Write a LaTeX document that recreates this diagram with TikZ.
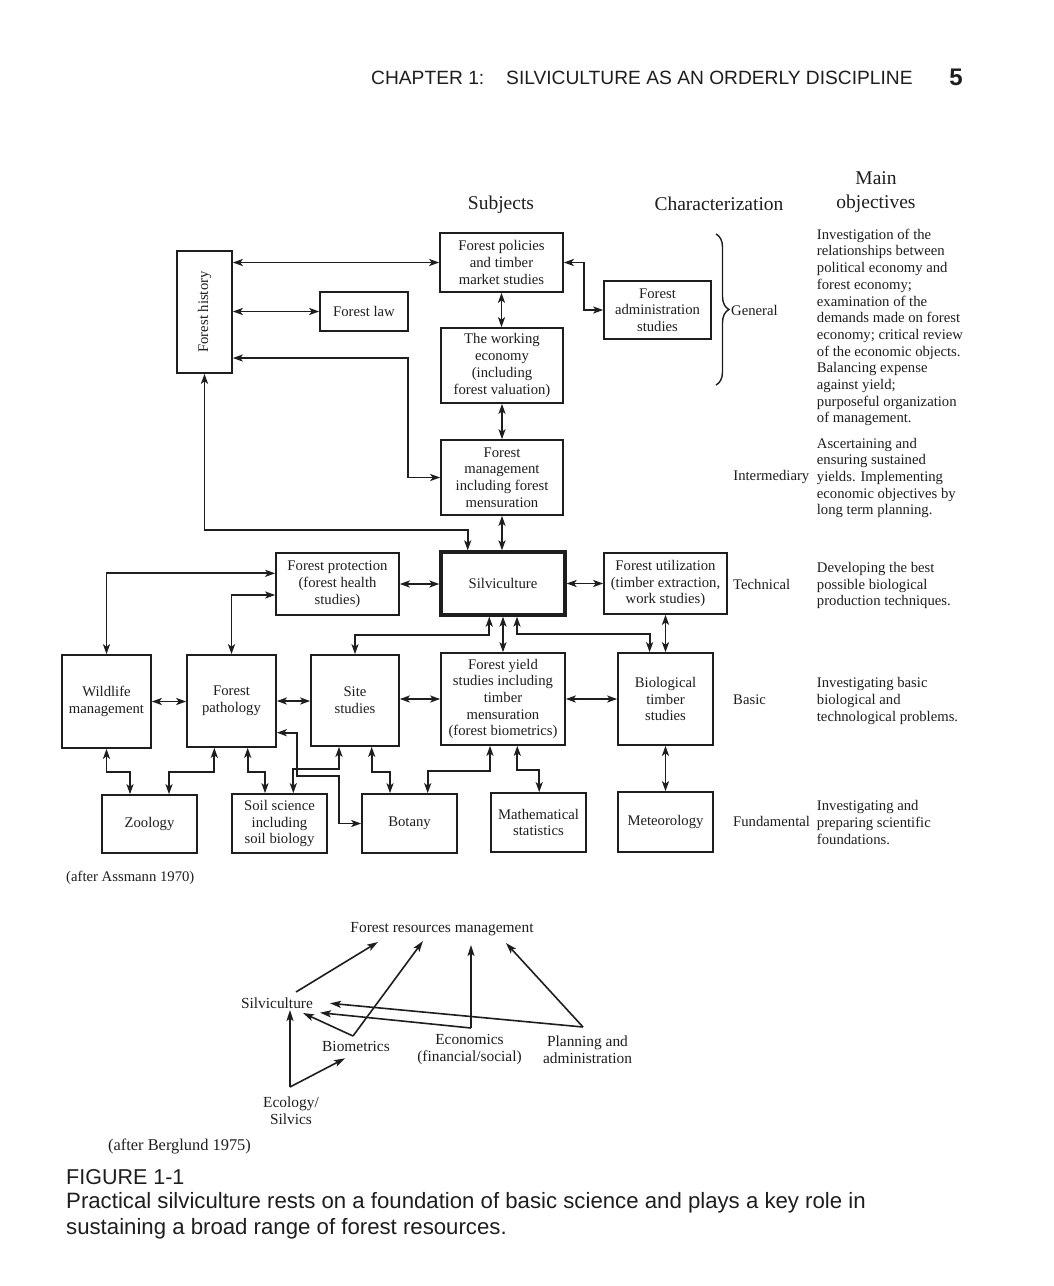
\documentclass[tikz,border=0pt]{standalone}
\usepackage{fontspec}
\setmainfont{Liberation Serif}
\setsansfont{Liberation Sans}
\usetikzlibrary{arrows.meta,decorations.pathreplacing,calc}
\definecolor{ink}{RGB}{30,30,30}
\begin{document}
\begin{tikzpicture}[x=1pt,y=-1pt,
  every node/.style={text=ink, inner sep=0pt, font=\fontsize{14.7}{16.7}\selectfont},
  box/.style={draw=ink, line width=1.6pt, align=center},
  conn/.style={draw=ink, line width=1.9pt, {Stealth[length=10pt,width=7pt,inset=2.5pt]}-{Stealth[length=10pt,width=7pt,inset=2.5pt]}},
  one/.style={draw=ink, line width=1.6pt, -{Stealth[length=11pt,width=7pt,inset=2.5pt]}},
  low/.style={font=\fontsize{15.4}{16.7}\selectfont},
  para/.style={align=left, anchor=west},
  head/.style={font=\fontsize{19.5}{24}\selectfont, align=center}]
\useasboundingbox (0,0) rectangle (1054,1286);
\fill[white] (0,0) rectangle (1054,1286);

% page header
\node[anchor=west, font=\sffamily\fontsize{19.2}{22}\selectfont] (chap) at (371,78) {CHAPTER 1:};
\node[anchor=west, font=\sffamily\fontsize{19.2}{22}\selectfont] (ttl) at (506,78) {SILVICULTURE AS AN ORDERLY DISCIPLINE};
\node[font=\sffamily\bfseries\fontsize{24}{24}\selectfont] (pg) at (956,77) {5};

% column headings
\node[head] (hsub) at (501,205) {Subjects};
\node[head] (hchar) at (719,204) {Characterization};
\node[head] (hobj) at (876,192) {Main\\objectives};

% boxes
\node[box, minimum width=55, minimum height=122] (hist) at (204.5,312) {\rotatebox{90}{Forest history}};
\node[box, minimum width=123, minimum height=59] (pol) at (501.5,262.5) {Forest policies\\and timber\\market studies};
\node[box, minimum width=88, minimum height=39] (law) at (364,311.5) {Forest law};
\node[box, minimum width=122, minimum height=75] (work) at (502,365.5) {The working\\economy\\(including\\forest valuation)};
\node[box, minimum width=107, minimum height=58] (admin) at (657.5,310) {Forest\\administration\\studies};
\node[box, minimum width=122, minimum height=75] (mgmt) at (502,477.5) {Forest\\management\\including forest\\mensuration};
\node[box, minimum width=123, minimum height=62] (prot) at (337.5,584) {Forest protection\\(forest health\\studies)};
\node[box, line width=3.2pt, minimum width=124, minimum height=63] (silv) at (503,583.5) {Silviculture};
\node[box, minimum width=123, minimum height=61] (util) at (665.5,583.5) {Forest utilization\\(timber extraction,\\work studies)};
\node[box, minimum width=89, minimum height=93] (wild) at (106.5,701.5) {Wildlife\\management};
\node[box, minimum width=89, minimum height=92] (path) at (231.5,701) {Forest\\pathology};
\node[box, minimum width=88, minimum height=91] (site) at (355,700.5) {Site\\studies};
\node[box, minimum width=124, minimum height=92] (yield) at (503,699) {Forest yield\\studies including\\timber\\mensuration\\(forest biometrics)};
\node[box, minimum width=95, minimum height=92] (bio) at (665.5,699) {Biological\\timber\\studies};
\node[box, minimum width=95, minimum height=58] (zoo) at (149.5,824) {Zoology};
\node[box, minimum width=95, minimum height=59] (soil) at (279.5,823.5) {Soil science\\including\\soil biology};
\node[box, minimum width=95, minimum height=59] (bot) at (409.5,823.5) {Botany};
\node[box, minimum width=95, minimum height=59] (math) at (538.5,822.5) {Mathematical\\statistics};
\node[box, minimum width=95, minimum height=60] (met) at (665.5,822) {Meteorology};

% bend points
\coordinate (b1) at (408,358);
\coordinate (b2) at (467.7,530);
\coordinate (b3) at (584,310);
\coordinate (b4) at (106,573.3);
\coordinate (b5) at (231,595);
\coordinate (b6) at (489.3,635);
\coordinate (b7) at (517,634);
\coordinate (b8) at (649.6,634);
\coordinate (z1) at (130,772);
\coordinate (z2) at (214.3,772);
\coordinate (z3) at (169,772);
\coordinate (s1) at (247.7,771.7);
\coordinate (s2) at (265,771.7);
\coordinate (s3) at (339,769.3);
\coordinate (s4) at (293.3,769.3);
\coordinate (p1) at (296.7,732.7);
\coordinate (p2) at (296.7,775.7);
\coordinate (p3) at (339.3,775.7);
\coordinate (t1) at (371.7,771.7);
\coordinate (t2) at (390,771.7);
\coordinate (y1) at (490,770.7);
\coordinate (y2) at (427.7,770.7);
\coordinate (y3) at (517.3,770);
\coordinate (y4) at (539.2,770);

% connectors, upper part
\draw[conn] (hist.east |- pol.west) -- (pol.west);
\draw[conn] (hist.east |- law.west) -- (law.west);
\draw[conn] (hist.east |- b1) -- (b1) |- (mgmt.west);
\draw[conn] (pol.south) -- (pol.south |- work.north);
\draw[conn] (work.south) -- (work.south |- mgmt.north);
\draw[conn] (mgmt.south) -- (mgmt.south |- silv.north);
\draw[conn] (hist.south) |- (b2) -- (b2 |- silv.north);
\draw[conn] (pol.east) -| (b3) -- (admin.west);

% brace
\draw[ink, line width=1.4pt, decorate, decoration={brace, amplitude=13pt}] (716,234) -- (716,385);
\node[anchor=west] (gen) at (731,310) {General};

% connectors, silviculture row
\draw[conn] (prot.east) -- (prot.east -| silv.west);
\draw[conn] (silv.east) -- (silv.east -| util.west);
\draw[conn] (prot.west |- b4) -| (wild.north);
\draw[conn] (prot.west |- b5) -| (path.north);
\draw[conn] (silv.south -| b6) -- (b6) -| (site.north);
\draw[conn] (silv.south) -- (silv.south |- yield.north);
\draw[conn] (silv.south -| b7) -- (b7) -- (b8) -- (b8 |- bio.north);
\draw[conn] (util.south) -- (util.south |- bio.north);

% basic row
\draw[conn] (wild.east) -- (wild.east -| path.west);
\draw[conn] (path.east) -- (path.east -| site.west);
\draw[conn] (site.east |- yield.west) -- (yield.west);
\draw[conn] (yield.east) -- (yield.east -| bio.west);
\draw[conn] (bio.south) -- (bio.south |- met.north);

% to fundamental row
\draw[conn] (wild.south) |- (z1) -- (z1 |- zoo.north);
\draw[conn] (path.south -| z2) -- (z2) -- (z3) -- (z3 |- zoo.north);
\draw[conn] (path.south -| s1) -- (s1) -- (s2) -- (s2 |- soil.north);
\draw[conn] (site.south -| s3) -- (s3) -- (s4) -- (s4 |- soil.north);
\draw[conn] (path.east |- p1) -- (p1) -- (p2) -- (p3) |- (bot.west);
\draw[conn] (site.south -| t1) -- (t1) -- (t2) -- (t2 |- bot.north);
\draw[conn] (yield.south -| y1) -- (y1) -- (y2) -- (y2 |- bot.north);
\draw[conn] (yield.south -| y3) -- (y3) -- (y4) -- (y4 |- math.north);

% characterization labels
\node[anchor=east] (inter) at (809.5,476.5) {Intermediary};
\node[anchor=west] (tech) at (733,584.5) {Technical};
\node[anchor=west] (basic) at (733,699.5) {Basic};
\node[anchor=west] (fund) at (733,821.5) {Fundamental};

% objectives
\node[para] (o1) at (816.7,327.5) {Investigation of the\\relationships between\\political economy and\\forest economy;\\examination of the\\demands made on forest\\economy; critical review\\of the economic objects.\\Balancing expense\\against yield;\\purposeful organization\\of management.};
\node[para] (o2) at (816.7,478) {Ascertaining and\\ensuring sustained\\yields. Implementing\\economic objectives by\\long term planning.};
\node[para] (o3) at (816.7,585.5) {Developing the best\\possible biological\\production techniques.};
\node[para] (o4) at (816.7,701) {Investigating basic\\biological and\\technological problems.};
\node[para] (o5) at (816.7,822.5) {Investigating and\\preparing scientific\\foundations.};

\node[anchor=west] (src1) at (66,878) {(after Assmann 1970)};

% lower diagram
\node[low] (frm) at (442,929) {Forest resources management};
\node[low] (ls) at (277,1003.5) {Silviculture};
\node[low] (bm) at (356,1046.5) {Biometrics};
\node[low, align=center] (ec) at (469.5,1049.5) {Economics\\(financial/social)};
\node[low, align=center] (pl) at (587.5,1049.5) {Planning and\\administration};
\node[low, align=center] (eco) at (291,1111) {Ecology/\\Silvics};

\coordinate (ls1) at (296,992);
\coordinate (f1) at (378,942);
\coordinate (bv) at (353,1036);
\coordinate (f2) at (423,941);
\coordinate (ls2) at (303,1013);
\coordinate (ev) at (471,1028);
\coordinate (f3) at (471,945);
\coordinate (ls3) at (320,1012.7);
\coordinate (pv) at (583,1027);
\coordinate (f4) at (506,943);
\coordinate (ls4) at (330,1003.3);
\coordinate (ecv) at (290,1087);
\coordinate (ls5) at (290,1010);
\coordinate (bm1) at (345,1058.3);

\draw[one] (ls1) -- (f1);
\draw[one] (bv) -- (f2);
\draw[one] (bv) -- (ls2);
\draw[one] (ev) -- (f3);
\draw[one] (ev) -- (ls3);
\draw[one] (pv) -- (f4);
\draw[one] (pv) -- (ls4);
\draw[one] (ecv) -- (ls5);
\draw[one] (ecv) -- (bm1);

\node[anchor=west, font=\fontsize{16.4}{18}\selectfont] (src2) at (108,1146) {(after Berglund 1975)};

% caption
\node[anchor=west, font=\sffamily\fontsize{21.5}{26}\selectfont] (fig) at (66,1177) {FIGURE 1-1};
\node[anchor=west, align=left, font=\sffamily\fontsize{22.2}{26}\selectfont] (cap) at (66,1215.5) {Practical silviculture rests on a foundation of basic science and plays a key role in\\sustaining a broad range of forest resources.};
\end{tikzpicture}
\end{document}
